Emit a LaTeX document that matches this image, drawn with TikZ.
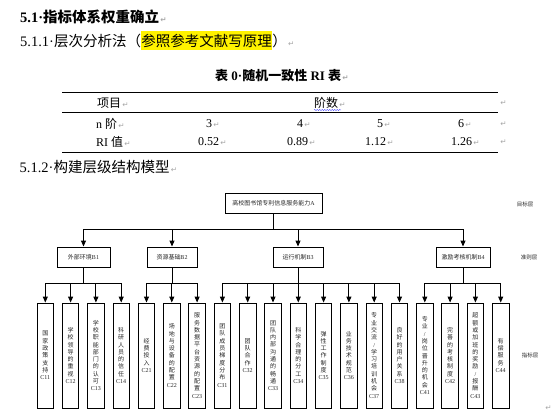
\documentclass[tikz,border=0pt]{standalone}
\usepackage{fontspec}
\setmainfont{Liberation Serif}
\newfontfamily\cjk{Noto Sans CJK SC}
\newfontfamily\symf{DejaVu Sans}
\usetikzlibrary{arrows.meta,decorations.pathmorphing}
\newcommand\rmk{{\symf\color{black!35}\fontsize{7.5}{8}\selectfont\,↵}}
\begin{document}
\begin{tikzpicture}[x=1pt,y=-1pt,
  hd/.style={inner sep=0pt,font=\fontsize{14.5}{16}\selectfont},
  cell/.style={anchor=west,inner sep=0pt,font=\fontsize{12}{14}\selectfont},
  box/.style={draw,line width=0.9pt,inner sep=0pt,minimum height=20pt,text=black!85,font=\cjk\fontsize{6}{7}\selectfont},
  cbox/.style={draw,line width=0.9pt,inner sep=0pt,minimum width=16.5pt,minimum height=105pt,text width=12pt,align=center,text=black!85,font=\cjk\fontsize{6}{7.3}\selectfont},
  conn/.style={line width=0.9pt,line cap=rect},
  arr/.style={line width=0.9pt,-{Triangle[width=5pt,length=6pt]}},
  lvl/.style={inner sep=0pt,text=black!85,font=\cjk\fontsize{5.5}{6}\selectfont},
  rule/.style={line width=0.8pt}
  ]
\useasboundingbox (0,0) rectangle (560,418);

% headings
\node[hd,anchor=west,font=\fontsize{14.5}{16}\selectfont\bfseries] (h1) at (20,17) {5.1·{\cjk 指标体系权重确立}\rmk};
\node[hd,anchor=base west] (h2a) at (20,46) {5.1.1·{\cjk 层次分析法（}};
\node[hd,anchor=base west,inner ysep=2.5pt,fill=yellow] (h2b) at (h2a.base east) {\cjk 参照参考文献写原理};
\node[hd,anchor=base west] (h2c) at (h2b.base east) {{\cjk ）}\rmk};

% table
\node[anchor=west,inner sep=0pt,font=\fontsize{13}{15}\selectfont\bfseries] (tt) at (215,76) {{\cjk 表}~0·{\cjk 随机一致性}~RI~{\cjk 表}\rmk};
\draw[rule] (62,92) -- (498,92);
\draw[line width=0.6pt] (62,112) -- (498,112);
\draw[rule] (62,152) -- (498,152);
\node[cell] (t11) at (97,103) {{\cjk 项目}\rmk};
\node[cell] (t12) at (314,103) {{\cjk 阶数}\rmk};
\node[cell] (t13) at (499,103) {\rmk};
\draw[blue!70,line width=0.4pt,decorate,decoration={snake,amplitude=0.6pt,segment length=2.5pt}] (314,110) -- (341,110);
\node[cell] (t21) at (96,124) {n~{\cjk 阶}\rmk};
\node[cell] (t22) at (206,124) {3\rmk};
\node[cell] (t23) at (297,124) {4\rmk};
\node[cell] (t24) at (377,124) {5\rmk};
\node[cell] (t25) at (458,124) {6\rmk};
\node[cell] (t26) at (499,124) {\rmk};
\node[cell] (t31) at (96,142) {RI~{\cjk 值}\rmk};
\node[cell] (t32) at (198,142) {0.52\rmk};
\node[cell] (t33) at (287,142) {0.89\rmk};
\node[cell] (t34) at (365,142) {1.12\rmk};
\node[cell] (t35) at (451,142) {1.26\rmk};
\node[cell] (t36) at (499,142) {\rmk};
\node[hd,anchor=west] (h3) at (19.5,167) {5.1.2·{\cjk 构建层级结构模型}\rmk};

% hierarchy
\node[box,minimum width=97pt] (A) at (273.5,203) {高校图书馆专利信息服务能力{\rmfamily A}};
\node[box,minimum width=53pt] (B1) at (83.5,257) {外部环境{\rmfamily B1}};
\node[box,minimum width=50pt] (B2) at (172,257) {资源基础{\rmfamily B2}};
\node[box,minimum width=50pt] (B3) at (298,257) {运行机制{\rmfamily B3}};
\node[box,minimum width=54pt] (B4) at (463,257) {激励考核机制{\rmfamily B4}};
\node[lvl] (L1) at (525,204) {目标层};
\node[lvl] (L2) at (529,257) {准则层};
\node[lvl] (L3) at (530,355) {指标层};

\foreach \i/\nm/\t in {
 0/c11/{国\\家\\政\\策\\支\\持\\{\rmfamily C11}},
 1/c12/{学\\校\\领\\导\\的\\重\\视\\{\rmfamily C12}},
 2/c13/{学\\校\\职\\能\\部\\门\\的\\认\\可\\{\rmfamily C13}},
 3/c14/{科\\研\\人\\员\\的\\信\\任\\{\rmfamily C14}},
 4/c21/{经\\费\\投\\入\\{\rmfamily C21}},
 5/c22/{场\\地\\与\\设\\备\\的\\配\\置\\{\rmfamily C22}},
 6/c23/{服\\务\\数\\据\\平\\台\\资\\源\\的\\配\\置\\{\rmfamily C23}},
 7/c31/{团\\队\\成\\员\\梯\\度\\分\\布\\{\rmfamily C31}},
 8/c32/{团\\队\\合\\作\\{\rmfamily C32}},
 9/c33/{团\\队\\内\\部\\沟\\通\\的\\畅\\通\\{\rmfamily C33}},
 10/c34/{科\\学\\合\\理\\的\\分\\工\\{\rmfamily C34}},
 11/c35/{弹\\性\\工\\作\\制\\度\\{\rmfamily C35}},
 12/c36/{业\\务\\技\\术\\规\\范\\{\rmfamily C36}},
 13/c37/{专\\业\\交\\流\\{\rmfamily /}\\学\\习\\培\\训\\机\\会\\{\rmfamily C37}},
 14/c38/{良\\好\\的\\用\\户\\关\\系\\{\rmfamily C38}},
 15/c41/{专\\业\\{\rmfamily /}\\岗\\位\\晋\\升\\的\\机\\会\\{\rmfamily C41}},
 16/c42/{完\\善\\的\\考\\核\\制\\度\\{\rmfamily C42}},
 17/c43/{超\\额\\或\\加\\班\\的\\奖\\励\\{\rmfamily /}\\报\\酬\\{\rmfamily C43}},
 18/c44/{有\\偿\\服\\务\\{\rmfamily C44}}}
 {\node[cbox] (\nm) at (45.3+25.3*\i,355.5) {\t};}

\draw[conn] (A.south) -- ++(0,16) coordinate (jA);
\draw[conn] (B1.north |- jA) -- (B4.north |- jA);
\foreach \b in {B1,B2,B3,B4} \draw[arr] (\b.north |- jA) -- (\b.north);

\foreach \b/\first/\last/\kids in {
 B1/c11/c14/{c11,c12,c13,c14},
 B2/c21/c23/{c21,c22,c23},
 B3/c31/c38/{c31,c32,c33,c34,c35,c36,c37,c38},
 B4/c41/c44/{c41,c42,c43,c44}}{
  \draw[conn] (\b.south) -- ++(0,16) coordinate (j\b);
  \draw[conn] (\first.north |- j\b) -- (\last.north |- j\b);
  \foreach \c in \kids \draw[arr] (\c.north |- j\b) -- (\c.north);
}

\node[inner sep=0pt] (endmark) at (548,408) {\rmk};
\end{tikzpicture}
\end{document}
